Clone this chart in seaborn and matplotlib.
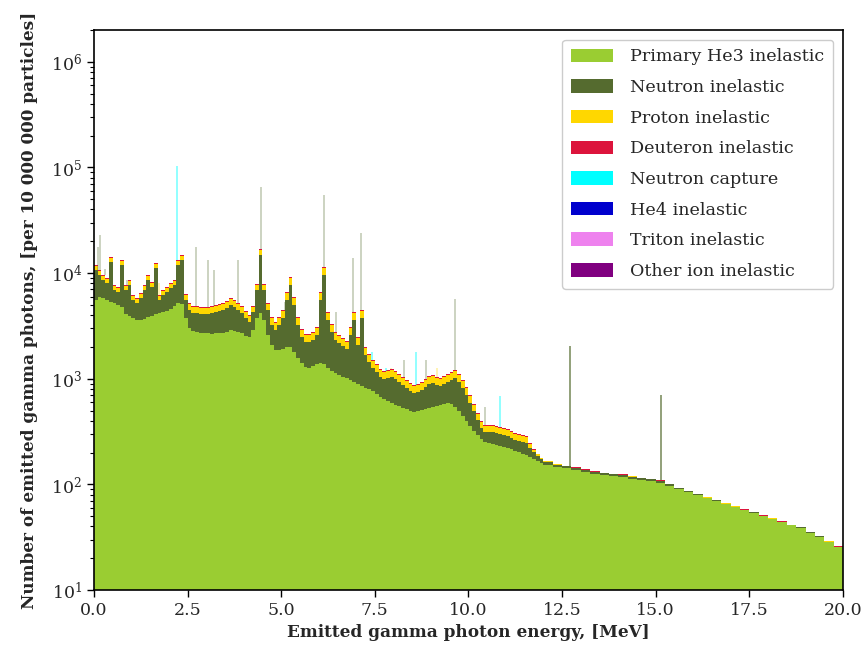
import numpy as np
import pandas as pd
import matplotlib
matplotlib.use("Agg")
import matplotlib.pyplot as plt
from matplotlib.patches import Patch
import seaborn as sns

# ---------------- data (counts per bin, per 10 000 000 particles) ----------------
# bins: 0.1 MeV wide from 0 to 12 MeV, 0.25 MeV wide from 12 to 20 MeV
primary = [
    5575, 5952, 5826, 5575, 5338, 5222, 5000, 4786, 4109, 3933,
    3766, 3605, 3605, 3684, 3848, 3933, 4109, 4199, 4292, 4386,
    4581, 4892, 5222, 5109, 3766, 3028, 2836, 2775, 2716, 2716,
    2716, 2657, 2716, 2716, 2716, 2775, 2898, 2836, 2775, 2716,
    2543, 2488, 2898, 3766, 4199, 3605, 2600, 2090, 1874, 1874,
    1915, 2001, 2001, 1794, 1574, 1411, 1293, 1266, 1322, 1381,
    1411, 1381, 1266, 1186, 1135, 1086, 1040, 1018, 974, 933,
    893, 855, 818, 801, 766, 718, 672, 644, 616, 590,
    565, 553, 529, 518, 496, 485, 496, 506, 518, 529,
    541, 553, 565, 577, 590, 577, 541, 496, 444, 398,
    357, 320, 294, 269, 252, 247, 241, 236, 231, 226,
    221, 216, 207, 203, 194, 190, 182, 174, 167, 159,
    153, 146, 143, 137, 131, 125, 123, 120, 118, 112, 110, 108, 103, 97, 90, 85,
    79, 74, 70, 65, 61, 57, 54, 50, 47, 44, 41, 39, 35, 32, 28.5, 25.5,
]
neutron = [
    5147, 3662, 2796, 2501, 7427, 1711, 1637, 7169, 2824, 3798,
    1809, 1617, 2219, 3249, 4774, 3469, 7091, 1376, 1924, 2251,
    2660, 2839, 6733, 8226, 1809, 1454, 1363, 1424, 1393, 1393,
    1393, 1542, 1576, 1670, 1766, 1908, 2102, 1950, 1707, 1483,
    1223, 963, 1394, 3167, 10671, 3328, 1882, 1142, 1024, 1358,
    1851, 3574, 5730, 3206, 1658, 1077, 938, 965, 1008, 1219,
    4164, 8233, 2339, 1589, 1195, 1097, 1005, 897, 1626, 2672,
    1197, 2911, 862, 642, 500, 442, 368, 352, 402, 450,
    431, 380, 345, 300, 270, 249, 254, 277, 318, 364,
    372, 321, 290, 316, 343, 397, 477, 437, 374, 305,
    233, 176, 113, 73, 61, 66, 72, 71, 69, 68,
    66, 59, 56, 55, 58, 57, 39, 29, 19, 15,
    10, 7, 6, 6, 6, 6, 5, 5, 5, 6, 5, 4, 5, 3, 2, 1.5,
    1.2, 1.0, 0.9, 0.8, 0.7, 0.6, 0.5, 0.5, 0.4, 0.4, 0.3, 0.3, 0.3, 0.2, 0.2, 0.2,
]
proton = [
    965, 865, 776, 727, 1149, 624, 597, 1076, 624, 696,
    502, 470, 524, 624, 776, 666, 1008, 502, 559, 597,
    652, 696, 1076, 1200, 669, 627, 588, 588, 575, 575,
    575, 588, 601, 614, 627, 656, 700, 670, 627, 588,
    527, 483, 494, 797, 1710, 797, 583, 485, 435, 485,
    565, 836, 1160, 750, 485, 373, 335, 335, 350, 390,
    836, 1442, 541, 416, 350, 327, 307, 287, 390, 541,
    314, 565, 269, 238, 209, 191, 172, 164, 168, 172,
    164, 154, 144, 135, 126, 121, 124, 129, 138, 147,
    151, 144, 141, 147, 154, 161, 168, 154, 135, 116,
    89, 69, 57, 48, 44, 44, 44, 43, 42, 41,
    40, 39, 37, 36, 35, 35, 18, 10, 6, 3.5,
    2, 1.5, 1.2, 1.0, 1.0, 0.9, 0.8, 0.8, 0.7, 0.7, 0.6, 0.6, 0.5, 0.5, 0.4, 0.4,
    0.3, 0.3, 0.3, 0.3, 0.2, 0.2, 0.2, 0.2, 0.2, 0.1, 0.1, 0.1, 0.1, 0.1, 0.1, 0.1,
]
deuteron = [
    300, 270, 240, 225, 360, 195, 185, 335, 195, 215,
    155, 145, 165, 195, 240, 205, 315, 155, 175, 185,
    205, 215, 335, 375, 155, 125, 118, 118, 115, 115,
    115, 118, 120, 123, 125, 131, 140, 134, 125, 118,
    105, 97, 120, 195, 415, 195, 125, 90, 81, 90,
    105, 156, 215, 140, 90, 70, 62, 62, 65, 73,
    156, 270, 101, 78, 65, 61, 57, 54, 73, 101,
    59, 105, 47, 40, 35, 32, 29, 28, 28.5, 29,
    28, 26, 24.5, 23, 21.5, 20.5, 21, 22, 23.5, 25,
    25.5, 24.5, 24, 25, 26, 27, 28.5, 26, 23, 19.7,
    16.5, 13.9, 11.4, 9.6, 8.8, 8.8, 8.8, 8.6, 8.4, 8.2,
    8, 7.7, 7.4, 7.2, 7, 6.9, 5, 3, 2, 1.5,
    0.8, 0.7, 0.6, 0.6, 0.5, 0.5, 0.5, 0.5, 0.4, 0.4, 0.4, 0.4, 0.3, 0.3, 0.3, 0.3,
    0.3, 0.3, 0.2, 0.2, 0.2, 0.2, 0.2, 0.2, 0.2, 0.2, 0.1, 0.1, 0.1, 0.1, 0.1, 0.1,
]

# narrow gamma lines (one fine bin each): energy [MeV], height of the bin top, source
line_energy = [0.12, 0.16, 0.30, 0.88, 1.74, 1.95, 2.224, 2.73, 3.04, 3.20,
               3.85, 4.45, 5.10, 6.14, 6.46, 6.92, 7.13, 7.42, 7.80, 7.93,
               8.28, 8.60, 8.87, 9.16, 9.64, 10.44, 10.84, 12.71, 15.14]
line_top = [17700, 23000, 11000, 8600, 8080, 7400, 103000, 17700, 13300, 10700,
            13300, 65500, 5300, 55000, 4300, 13900, 24000, 1800, 1270, 1270,
            1500, 1800, 1500, 1270, 5700, 540, 690, 2050, 700]
line_source = ["Neutron inelastic", "Neutron inelastic", "Neutron inelastic", "Neutron inelastic",
               "Proton inelastic", "Neutron inelastic", "Neutron capture", "Neutron inelastic",
               "Neutron inelastic", "Neutron inelastic", "Neutron inelastic", "Neutron inelastic",
               "Neutron inelastic", "Neutron inelastic", "Neutron inelastic", "Neutron inelastic",
               "Neutron inelastic", "Neutron capture", "Neutron capture", "Proton inelastic",
               "Neutron inelastic", "Neutron capture", "Neutron inelastic", "Proton inelastic",
               "Neutron inelastic", "Neutron inelastic", "Neutron capture", "Neutron inelastic",
               "Neutron inelastic"]

sources = ["Primary He3 inelastic", "Neutron inelastic", "Proton inelastic",
           "Deuteron inelastic", "Neutron capture", "He4 inelastic",
           "Triton inelastic", "Other ion inelastic"]
colors = ["#9acd32", "#556b2f", "#ffd700", "#dc143c", "#00ffff", "#0000cd",
          "#ee82ee", "#800080"]
palette = dict(zip(sources, colors))

# ---------------- figure ----------------
sns.set_style("ticks")
plt.rcParams["font.family"] = ["DejaVu Serif"]
plt.rcParams["mathtext.fontset"] = "dejavuserif"

edges = np.concatenate([np.linspace(0, 12, 121), np.linspace(12.25, 20, 32)])
centers = 0.5 * (edges[:-1] + edges[1:])
bins = [float(b) for b in edges]

layers = [
    ("Primary He3 inelastic", primary),
    ("Neutron inelastic", neutron),
    ("Proton inelastic", proton),
    ("Deuteron inelastic", deuteron),
]

fig = plt.figure(figsize=(8.66, 6.56), dpi=100)
ax = fig.add_axes([0.1085, 0.1006, 0.8649, 0.8537])
ax.set_yscale("log")

# stacked histogram: draw cumulative tops from the highest layer down
cum = np.cumsum([np.asarray(v, float) for _, v in layers], axis=0)
for i in range(len(layers) - 1, -1, -1):
    name = layers[i][0]
    d = pd.DataFrame({"energy": centers, "count": cum[i]})
    sns.histplot(data=d, x="energy", weights="count", bins=bins, element="step",
                 fill=True, linewidth=0, alpha=1, color=palette[name], ax=ax)

# narrow lines on top of the continuum
total = cum[-1]
for e, top, src in zip(line_energy, line_top, line_source):
    idx = np.searchsorted(edges, e) - 1
    base = total[idx]
    alpha = 0.75 if e > 12 else 0.35
    if src == "Neutron capture":
        alpha = 0.5
    ax.vlines(e, base, top, color=palette[src], lw=1.2, alpha=alpha)

ax.set_xlim(0, 20)
ax.set_ylim(10, 2e6)
ax.set_xticks(np.arange(0, 20.1, 2.5))
ax.set_xticklabels([f"{t:.1f}" for t in np.arange(0, 20.1, 2.5)])
ax.tick_params(axis="both", which="major", labelsize=12.5, length=5, width=1, color="black")
ax.tick_params(axis="y", which="minor", length=3, width=0.8, color="black")
for sp in ax.spines.values():
    sp.set_visible(True)
    sp.set_color("black")
    sp.set_linewidth(1.2)

ax.set_xlabel("Emitted gamma photon energy, [MeV]", fontsize=12.2, fontweight="bold")
ax.set_ylabel("Number of emitted gamma photons, [per 10 000 000 particles]",
              fontsize=12.2, fontweight="bold", labelpad=9)

handles = [Patch(facecolor=c, edgecolor="none", label=s) for s, c in zip(sources, colors)]
leg = ax.legend(handles=handles, loc="upper right", fontsize=12.6, frameon=True,
                fancybox=True, framealpha=1, edgecolor="#cccccc",
                handlelength=2.4, handleheight=0.8, labelspacing=0.78,
                borderpad=0.5, handletextpad=1.0, borderaxespad=0.55)

fig.savefig("out.png", dpi=100)
